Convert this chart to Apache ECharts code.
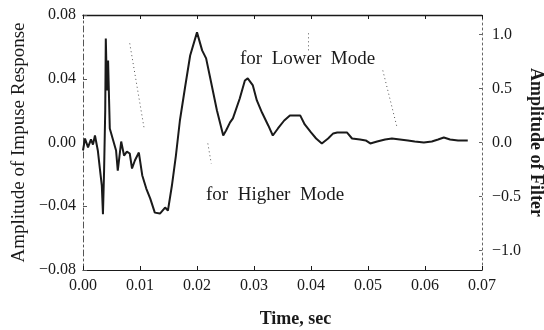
<!DOCTYPE html>
<html>
<head>
<meta charset="utf-8">
<script src="https://cdn.jsdelivr.net/npm/echarts@6/dist/echarts.min.js"></script>
<style>
    html, body { margin: 0; padding: 0; background: #fff; }
    #impulse_chart { width: 544px; height: 330px; }
</style>
</head>
<body>
<div id="impulse_chart"></div>
<script>

// Data
// ------------------------------

var timeSec = [
    0.0000, 0.00035, 0.00088, 0.0014, 0.00175, 0.0021, 0.0026, 0.0030, 0.0033, 0.0035,
    0.0037, 0.0039, 0.0040, 0.0042, 0.0044, 0.0047, 0.0053, 0.0058, 0.0061, 0.0067,
    0.0072, 0.0077, 0.0082, 0.0086, 0.0091, 0.0098, 0.0104, 0.0111, 0.0118, 0.0126,
    0.0135, 0.0144, 0.0149, 0.0156, 0.0163, 0.0170, 0.0179, 0.0188, 0.0200, 0.0209,
    0.0216, 0.0223, 0.0235, 0.0246, 0.0251, 0.0258, 0.0263, 0.0275, 0.0284, 0.0289,
    0.0298, 0.0305, 0.0314, 0.0325, 0.0333, 0.0342, 0.0353, 0.0363, 0.0381, 0.0389,
    0.0400, 0.0409, 0.0419, 0.0430, 0.0439, 0.0446, 0.0463, 0.0472, 0.0486, 0.0496,
    0.0504, 0.0516, 0.0530, 0.0542, 0.0556, 0.0570, 0.0582, 0.0598, 0.0612, 0.0623,
    0.0633, 0.0644, 0.0658, 0.0675
];

var impulse = [
    -0.0050, 0.0025, -0.0031, 0.0019, -0.0013, 0.0044, -0.0050, -0.0176, -0.0270, -0.0450,
    -0.0176, 0.0201, 0.0653, 0.0327, 0.0515, 0.0088, 0.0013, -0.0050, -0.0176, 0.0006,
    -0.0082, -0.0057, -0.0069, -0.0163, -0.0113, -0.0063, -0.0207, -0.0289, -0.0352, -0.0440,
    -0.0446, -0.0408, -0.0427, -0.0270, -0.0082, 0.0138, 0.0345, 0.0546, 0.0691, 0.0578,
    0.0528, 0.0408, 0.0201, 0.0044, 0.0075, 0.0126, 0.0151, 0.0276, 0.0389, 0.0402,
    0.0358, 0.0264, 0.0188, 0.0107, 0.0044, 0.0088, 0.0138, 0.0170, 0.0170, 0.0113,
    0.0063, 0.0025, -0.0006, 0.0025, 0.0057, 0.0063, 0.0063, 0.0025, 0.0019, 0.0013,
    -0.0006, 0.0006, 0.0019, 0.0025, 0.0019, 0.0013, 0.0006, 0.0000, 0.0006, 0.0019,
    0.0031, 0.0019, 0.0013, 0.0013
];

var filterTicks = [-1.0, -0.5, 0.0, 0.5, 1.0];

// Dotted leader lines of the labels, [t1, v1, t2, v2] in impulse units
var leaderLines = [
    [0.0396, 0.0685, 0.0396, 0.0578],
    [0.0526, 0.0452, 0.0551, 0.0094],
    [0.0219, -0.0006, 0.0225, -0.0132],
    [0.0082, 0.0622, 0.0107, 0.0094]
];


// Chart
// ------------------------------

var ImpulseChart = function() {

    var serif = '"Liberation Serif", "DejaVu Serif", serif';
    var ink = '#1a1a1a';

    var minusSign = function(text) {
        return text.replace('-', '\u2212');
    };

    var _build = function() {
        var element = document.getElementById('impulse_chart');
        if (!element) {
            return;
        }

        var chart = echarts.init(element, null, { renderer: 'canvas' });

        var points = timeSec.map(function(t, i) {
            return [t, impulse[i]];
        });

        var leaders = leaderLines.map(function(l) {
            return [{ coord: [l[0], l[1]] }, { coord: [l[2], l[3]] }];
        });

        chart.setOption({
            animation: false,
            backgroundColor: '#fff',
            textStyle: {
                fontFamily: serif,
                color: ink
            },

            // Fixed plot box, no auto shrinking
            grid: {
                left: 83,
                right: 62,
                top: 15,
                bottom: 60,
                containLabel: false,
                outerBoundsMode: 'none'
            },

            // Horizontal axes (bottom with labels, top as frame)
            xAxis: [{
                type: 'value',
                position: 'bottom',
                min: 0,
                max: 0.07,
                interval: 0.01,
                name: 'Time, sec',
                nameLocation: 'middle',
                nameGap: 40,
                nameTextStyle: {
                    fontFamily: serif,
                    fontSize: 18,
                    fontWeight: 'bold',
                    color: ink,
                    padding: [0, 0, 0, 26]
                },
                axisLine: { onZero: false, lineStyle: { color: ink, width: 1.2 } },
                axisTick: { inside: true, length: 4, lineStyle: { color: ink } },
                axisLabel: {
                    fontFamily: serif,
                    fontSize: 16,
                    color: ink,
                    margin: 8,
                    formatter: function(v) { return v.toFixed(2); }
                },
                splitLine: { show: false }
            }, {
                type: 'value',
                position: 'top',
                min: 0,
                max: 0.07,
                interval: 0.01,
                axisLine: { onZero: false, lineStyle: { color: ink, width: 1.4 } },
                axisTick: { inside: true, length: 4, lineStyle: { color: ink } },
                axisLabel: { show: false },
                splitLine: { show: false }
            }],

            // Vertical axes
            yAxis: [{
                type: 'value',
                position: 'left',
                min: -0.08,
                max: 0.08,
                interval: 0.04,
                name: 'Amplitude of Impuse Response',
                nameLocation: 'middle',
                nameGap: 54,
                nameTextStyle: {
                    fontFamily: serif,
                    fontSize: 19,
                    color: ink
                },
                axisLine: { onZero: false, lineStyle: { color: '#555', width: 1, type: [6, 3, 2, 3] } },
                axisTick: { inside: true, length: 4, lineStyle: { color: '#555' } },
                axisLabel: {
                    fontFamily: serif,
                    fontSize: 16,
                    color: ink,
                    margin: 7,
                    formatter: function(v) { return minusSign(v.toFixed(2)); }
                },
                splitLine: { show: false }
            }, {
                type: 'value',
                position: 'right',
                min: -1.18,
                max: 1.18,
                name: 'Amplitude of Filter',
                nameLocation: 'middle',
                nameGap: 45,
                nameRotate: -90,
                nameMoveOverlap: false,
                nameTextStyle: {
                    fontFamily: serif,
                    fontSize: 18,
                    fontWeight: 'bold',
                    color: ink
                },
                axisLine: { onZero: false, lineStyle: { color: '#666', width: 1, type: [2, 3] } },
                axisTick: {
                    inside: true,
                    length: 3,
                    customValues: filterTicks,
                    lineStyle: { color: '#666' }
                },
                axisLabel: {
                    fontFamily: serif,
                    fontSize: 16,
                    color: ink,
                    margin: 10,
                    customValues: filterTicks,
                    formatter: function(v) { return minusSign(v.toFixed(1)); }
                },
                splitLine: { show: false }
            }],

            // Curve labels
            graphic: [{
                type: 'text',
                left: 240,
                top: 50,
                style: {
                    text: 'for  Lower  Mode',
                    font: '19px ' + serif,
                    fill: ink
                }
            }, {
                type: 'text',
                left: 206,
                top: 186,
                style: {
                    text: 'for  Higher  Mode',
                    font: '19px ' + serif,
                    fill: ink
                }
            }],

            series: [{
                name: 'Impulse response',
                type: 'line',
                xAxisIndex: 0,
                yAxisIndex: 0,
                showSymbol: false,
                smooth: false,
                lineStyle: { color: ink, width: 2 },
                data: points,
                markLine: {
                    silent: true,
                    symbol: ['none', 'none'],
                    label: { show: false },
                    lineStyle: { color: '#555', width: 1, type: [1, 3] },
                    data: leaders
                }
            }]
        });
    };

    return {
        init: function() {
            _build();
        }
    };
}();

document.addEventListener('DOMContentLoaded', function() {
    ImpulseChart.init();
});
</script>
</body>
</html>
